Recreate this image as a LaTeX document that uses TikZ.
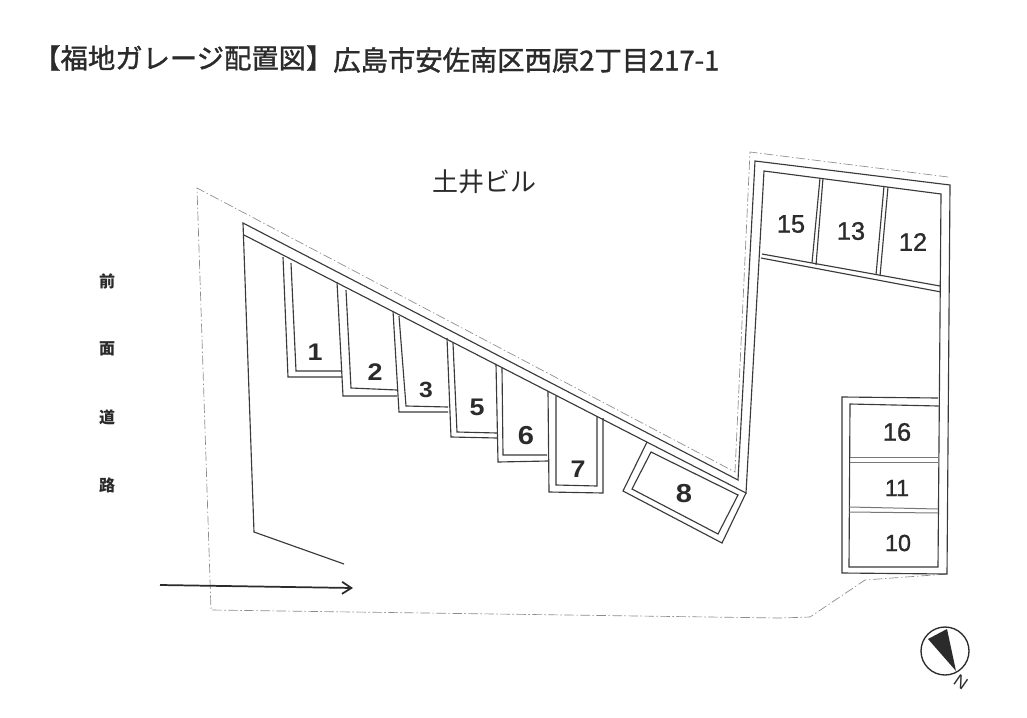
\documentclass[tikz,border=0pt]{standalone}
\usepackage{fontspec}
\usetikzlibrary{arrows.meta}
\setmainfont{Liberation Sans}
\newfontfamily\cjk{Noto Sans CJK JP}
\newfontfamily\cjkheavy{Noto Sans CJK JP}[FakeBold=1.4]
\newfontfamily\numfont{Liberation Sans}[FakeBold=1.2]
\newfontfamily\widenum{Liberation Sans}[UprightFont=* Bold,FakeStretch=1.12]
\definecolor{ink}{HTML}{2B2B2B}
\definecolor{wall}{HTML}{3A3A3A}
\definecolor{soft}{HTML}{777777}
\definecolor{bound}{HTML}{8C8C8C}
\tikzset{
  wallline/.style={draw=wall,line width=0.85pt,line join=miter},
  softline/.style={draw=soft,line width=0.75pt},
  boundary/.style={draw=bound,line width=0.5pt,dash pattern=on 7pt off 2pt on 1pt off 2pt},
  titletext/.style={font=\cjkheavy\fontsize{20.5}{24}\selectfont,text=ink,inner sep=0pt,anchor=west},
  sidelabel/.style={font=\cjk\bfseries\fontsize{12}{13}\selectfont,text=ink,inner sep=0pt},
  bignum/.style={font=\widenum\fontsize{18}{20}\selectfont,text=ink,inner sep=0pt},
  smallbold/.style={font=\widenum\fontsize{16.5}{20}\selectfont,text=ink,inner sep=0pt},
  midnum/.style={font=\numfont\fontsize{19}{20}\selectfont,text=ink,inner sep=0pt},
  lownum/.style={font=\numfont\fontsize{17.5}{20}\selectfont,text=ink,inner sep=0pt},
}
\begin{document}
\begin{tikzpicture}[x=0.75pt,y=-0.75pt]
\useasboundingbox (0,0) rectangle (1027,717);
\fill[white] (0,0) rectangle (1027,717);
% title
\node[titletext] (title1) at (33,58) {【福地ガレージ配置図】};
\node[titletext] (title2) at (333,60) {広島市安佐南区西原2丁目217-1};
\node[font=\cjk\fontsize{19.5}{24}\selectfont,text=ink,inner sep=0pt] (bldg) at (484,182) {土井ビル};
% side labels
\node[sidelabel] (r1) at (107,281) {前};
\node[sidelabel] (r2) at (107,349) {面};
\node[sidelabel] (r3) at (107,417) {道};
\node[sidelabel] (r4) at (107,485) {路};
% boundary
\draw[boundary] (948,177) -- (750,152) -- (735,472) -- (197,188) -- (211,610) -- (780,618) -- (810,617) -- (865,580) -- (947,574);
% walls
\draw[wallline] (344,564) -- (254,532) -- (243,223) -- (738,480) -- (755,161) -- (950,185) -- (947,574) -- (842,573) -- (842,397) -- (938,398);
\draw[wallline] (244,235) -- (746,493) -- (764,171) -- (941,194) -- (938,567) -- (849,567) -- (850,404) -- (938,406);
% bar across the upper block
\draw[wallline] (762,254) -- (940,286);
\draw[wallline] (761,258) -- (941,292);
% upper dividers
\draw[wallline] (820,178) -- (812,263);
\draw[wallline] (823,178) -- (816,265);
\draw[wallline] (884,186) -- (876,275);
\draw[wallline] (888,187) -- (880,276);
% right-hand dividers
\draw[softline] (850,457) -- (938,457);
\draw[softline] (850,462) -- (938,462);
\draw[softline] (849,507) -- (938,509);
\draw[softline] (849,512) -- (938,513);
% stalls
\draw[wallline] (283,257) -- (288,377) -- (342,377);
\draw[wallline] (291,263) -- (296,371) -- (342,371);
\draw[wallline] (337,282) -- (343,396) -- (397,396);
\draw[wallline] (346,290) -- (351,388) -- (397,390);
\draw[wallline] (393,311) -- (399,412) -- (448,412);
\draw[wallline] (399,316) -- (406,406) -- (448,407);
\draw[wallline] (447,338) -- (451,437) -- (497,438);
\draw[wallline] (453,343) -- (457,432) -- (497,433);
\draw[wallline] (496,364) -- (498,462) -- (548,461);
\draw[wallline] (502,368) -- (503,455) -- (547,455);
\draw[wallline] (548,391) -- (549,492) -- (603,493) -- (603,418);
\draw[wallline] (556,396) -- (556,485) -- (597,486) -- (597,416);
% stall 8
\draw[wallline] (647,442) -- (623,491) -- (722,543) -- (746,493);
\draw[wallline] (651,452) -- (632,489) -- (718,534) -- (738,495) -- cycle;
% entry arrow
\draw[draw=ink,line width=1.3pt,-{Straight Barb[length=7pt,width=9pt]}] (160,585) -- (353,588);
% compass
\draw[draw=ink,line width=1pt] (945,651) circle [radius=24];
\fill[ink] (928,639) -- (947,629) -- (956,671) -- cycle;
\node[font=\fontsize{13}{15}\selectfont,text=ink,inner sep=0pt,rotate=-35] (north) at (961,682) {N};
% numbers
\node[bignum] (n1) at (315,352) {1};
\node[bignum] (n2) at (375,372) {2};
\node[smallbold] (n3) at (426,390) {3};
\node[bignum] (n5) at (477,407) {5};
\node[bignum,font=\widenum\fontsize{19.5}{20}\selectfont] (n6) at (526,436) {6};
\node[bignum] (n7) at (578,469) {7};
\node[bignum,font=\widenum\fontsize{19.5}{20}\selectfont] (n8) at (684,494) {8};
\node[midnum] (n15) at (791,224) {15};
\node[midnum] (n13) at (851,231) {13};
\node[midnum] (n12) at (913,242) {12};
\node[midnum] (n16) at (897,432) {16};
\node[lownum] (n11) at (897,488) {11};
\node[lownum] (n10) at (898,543) {10};
\end{tikzpicture}
\end{document}
